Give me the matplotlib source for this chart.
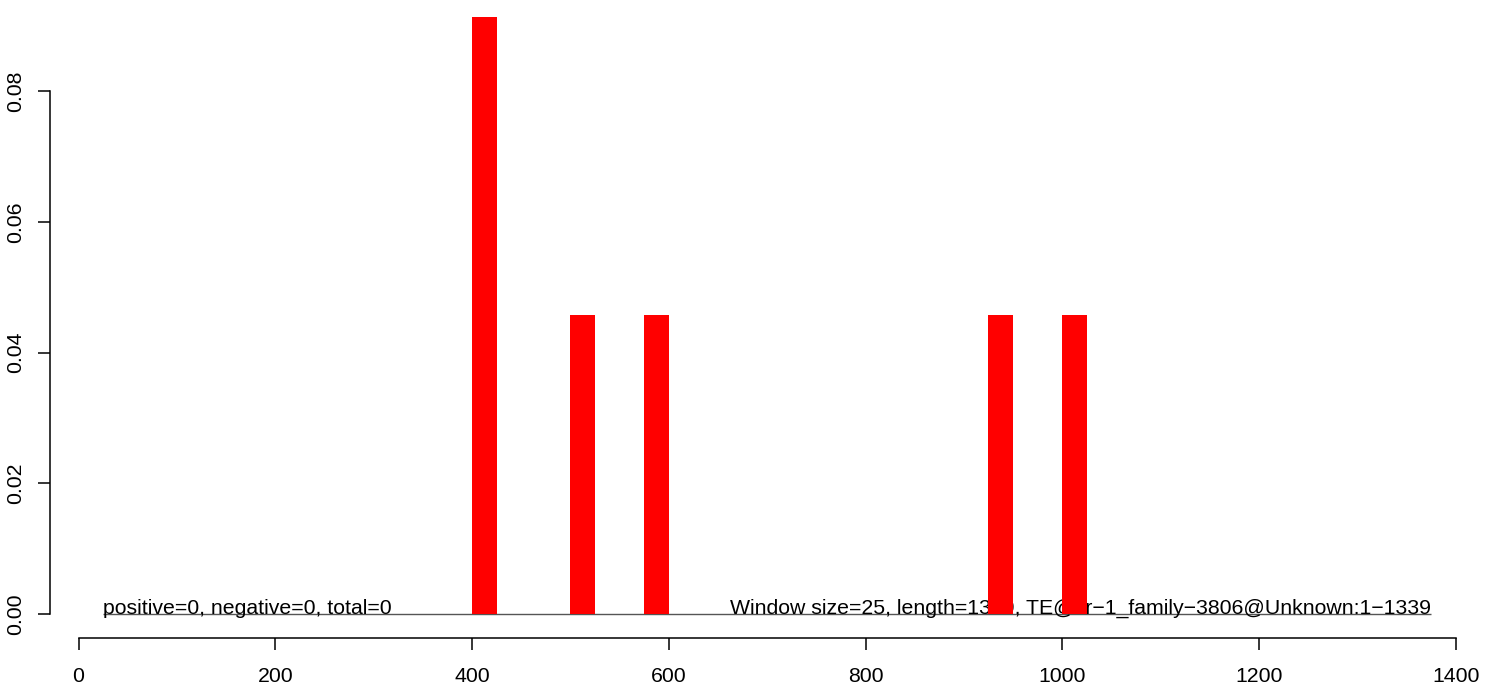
import matplotlib
matplotlib.use("Agg")
import matplotlib.pyplot as plt

# window starts (bp) and densities
window_size = 25
seq_length = 1339
bin_starts = [400, 500, 575, 925, 1000]
bin_values = [0.0914, 0.0457, 0.0457, 0.0457, 0.0457]
x_ticks = [0, 200, 400, 600, 800, 1000, 1200, 1400]
y_ticks = [0.00, 0.02, 0.04, 0.06, 0.08]
left_label = "positive=0, negative=0, total=0"
right_label = ("Window size=25, length=1339, "
               "TE@ltr\u22121_family\u22123806@Unknown:1\u22121339")

plt.rcParams["font.family"] = ["Liberation Sans", "DejaVu Sans"]
plt.rcParams["font.size"] = 15.3

W, H = 1496, 689
fig = plt.figure(figsize=(W / 100, H / 100), dpi=100)
# plot region in pixels (R style, 4% padding around data range)
x0, x1 = 50.0, 1484.3
y_bot, y_top = 637.7, -6.9
ax = fig.add_axes([x0 / W, (H - y_bot) / H, (x1 - x0) / W, (y_bot - y_top) / H])

x_lo, x_hi = window_size, 1375
xpad = 0.04 * (x_hi - x_lo)
ymax = max(bin_values)
ypad = 0.04 * ymax
ax.set_xlim(x_lo - xpad, x_hi + xpad)
ax.set_ylim(-ypad, ymax + ypad)

ax.hlines(0, x_lo, x_hi, color="#555555", linewidth=1.0, zorder=1)
ax.text(x_lo, 0, left_label, ha="left", va="baseline", zorder=2)
ax.text(x_hi, 0, right_label, ha="right", va="baseline", zorder=2)
ax.bar(bin_starts, bin_values, width=window_size, align="edge",
       color="#ff0000", linewidth=0, zorder=3)

for side in ("top", "right"):
    ax.spines[side].set_visible(False)
ax.spines["left"].set_bounds(0, 0.08)
ax.spines["bottom"].set_bounds(0, 1400)
for side in ("left", "bottom"):
    ax.spines[side].set_linewidth(1.1)
ax.set_xticks(x_ticks)
ax.set_xticklabels([str(t) for t in x_ticks])
ax.set_yticks(y_ticks)
ax.set_yticklabels(["%.2f" % t for t in y_ticks])
ax.tick_params(direction="out", length=8.6, width=1.1)
ax.tick_params(axis="x", pad=12.5)
ax.tick_params(axis="y", pad=9, labelrotation=90)
for lab in ax.get_yticklabels():
    lab.set_va("center")

fig.savefig("out.png", dpi=100)
